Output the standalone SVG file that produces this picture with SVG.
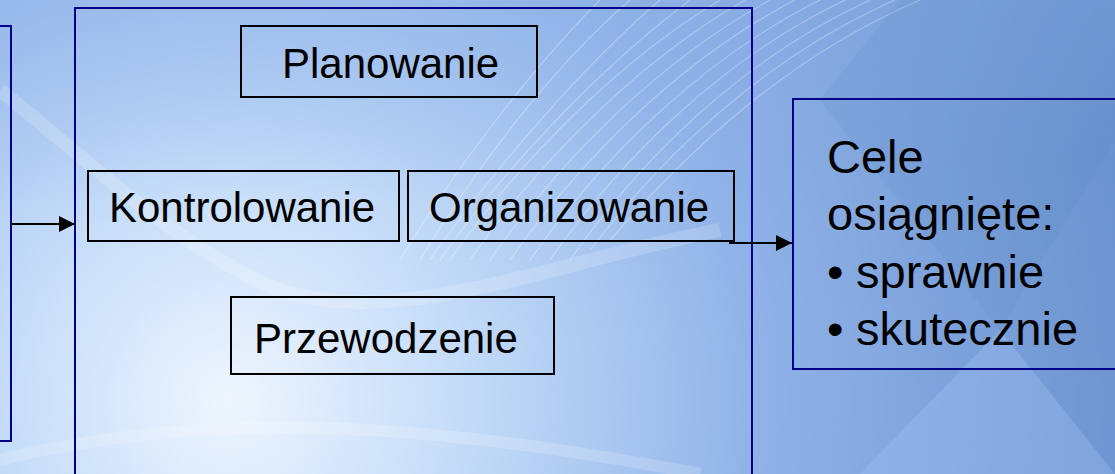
<svg xmlns="http://www.w3.org/2000/svg" width="1115" height="474" viewBox="0 0 1115 474">
<defs>
<radialGradient id="bg" cx="230" cy="400" r="950" gradientUnits="userSpaceOnUse">
<stop offset="0" stop-color="#eef5fe"/>
<stop offset="0.25" stop-color="#c3dbf8"/>
<stop offset="0.55" stop-color="#90b3e8"/>
<stop offset="1" stop-color="#6890cd"/>
</radialGradient>
<linearGradient id="topl" x1="0" y1="0" x2="0.3" y2="1">
<stop offset="0" stop-color="#8fb3ea" stop-opacity="0.7"/>
<stop offset="1" stop-color="#8fb3ea" stop-opacity="0"/>
</linearGradient>
<marker id="arr" viewBox="0 0 16 16" refX="16" refY="8" markerWidth="16" markerHeight="16" markerUnits="userSpaceOnUse" orient="auto">
<path d="M0,0 L16,8 L0,16 Z" fill="#000"/>
</marker>
<style>
.big{fill:none;stroke:#00008b;stroke-width:2}
.box{fill:none;stroke:#000;stroke-width:2}
.t{font-family:"Liberation Sans",Arial,sans-serif;font-size:42px;fill:#000}
.tr{font-family:"Liberation Sans",Arial,sans-serif;font-size:47px;fill:#000}
.sw{fill:none;stroke:#ffffff;stroke-opacity:0.3;stroke-width:1.2}
</style>
</defs>
<rect width="1115" height="474" fill="url(#bg)"/>
<rect width="1115" height="200" fill="url(#topl)" opacity="0.6"/>
<g id="decor">
<path d="M0,90 C100,170 180,250 280,290 C400,330 560,260 720,230" fill="none" stroke="#ffffff" stroke-opacity="0.18" stroke-width="14"/>
<path d="M0,460 C200,410 420,420 700,474" fill="none" stroke="#ffffff" stroke-opacity="0.18" stroke-width="12"/>
<path d="M450,260 C520,160 620,60 720,0" class="sw"/>
<path d="M470,260 C540,160 640,60 745,0" class="sw"/>
<path d="M490,260 C560,160 660,60 770,0" class="sw"/>
<path d="M510,260 C580,160 680,60 795,0" class="sw"/>
<path d="M530,260 C600,160 700,60 820,0" class="sw"/>
<path d="M550,260 C620,160 720,60 845,0" class="sw"/>
<path d="M570,260 C640,160 740,60 870,0" class="sw"/>
<path d="M590,250 C660,160 760,60 895,0" class="sw"/>
<path d="M610,240 C680,160 780,60 920,0" class="sw"/>
<path d="M400,260 C460,160 540,60 600,0" class="sw"/>
<path d="M420,260 C480,160 560,60 630,0" class="sw"/>
<path d="M430,260 C500,160 590,60 660,0" class="sw"/>
<path d="M440,260 C510,160 610,60 690,0" class="sw"/>
<path d="M860,474 L1000,330 L1115,474 Z" fill="#a8c8f4" opacity="0.3"/>
<path d="M820,100 L1000,330 L1115,140 L1115,0 L900,0 Z" fill="#5a84c4" opacity="0.15"/>
</g>
<g id="left-box"><rect x="-20" y="26" width="31" height="415" class="big"/></g>
<g id="functions-box"><rect x="75" y="8" width="677" height="480" class="big"/></g>
<g id="planowanie"><rect x="241" y="26" width="296" height="71" class="box"/><text x="282" y="78" class="t">Planowanie</text></g>
<g id="kontrolowanie"><rect x="88" y="171" width="311" height="70" class="box"/><text x="109" y="222" class="t">Kontrolowanie</text></g>
<g id="organizowanie"><rect x="408" y="171" width="326" height="70" class="box"/><text x="429" y="222" class="t">Organizowanie</text></g>
<g id="przewodzenie"><rect x="231" y="297" width="323" height="77" class="box"/><text x="254" y="353" class="t">Przewodzenie</text></g>
<g id="cele"><rect x="793" y="99" width="340" height="270" class="big"/>
<text class="tr"><tspan x="827" y="173">Cele</tspan><tspan x="827" y="230">osiągnięte:</tspan><tspan x="827" y="288">•</tspan><tspan x="856" y="288">sprawnie</tspan><tspan x="827" y="345">•</tspan><tspan x="856" y="345">skutecznie</tspan></text></g>
<g id="connectors" stroke="#000" stroke-width="2" fill="none">
<line x1="11" y1="224" x2="75" y2="224" marker-end="url(#arr)"/>
<line x1="729" y1="243" x2="792" y2="243" marker-end="url(#arr)"/>
</g>
</svg>
